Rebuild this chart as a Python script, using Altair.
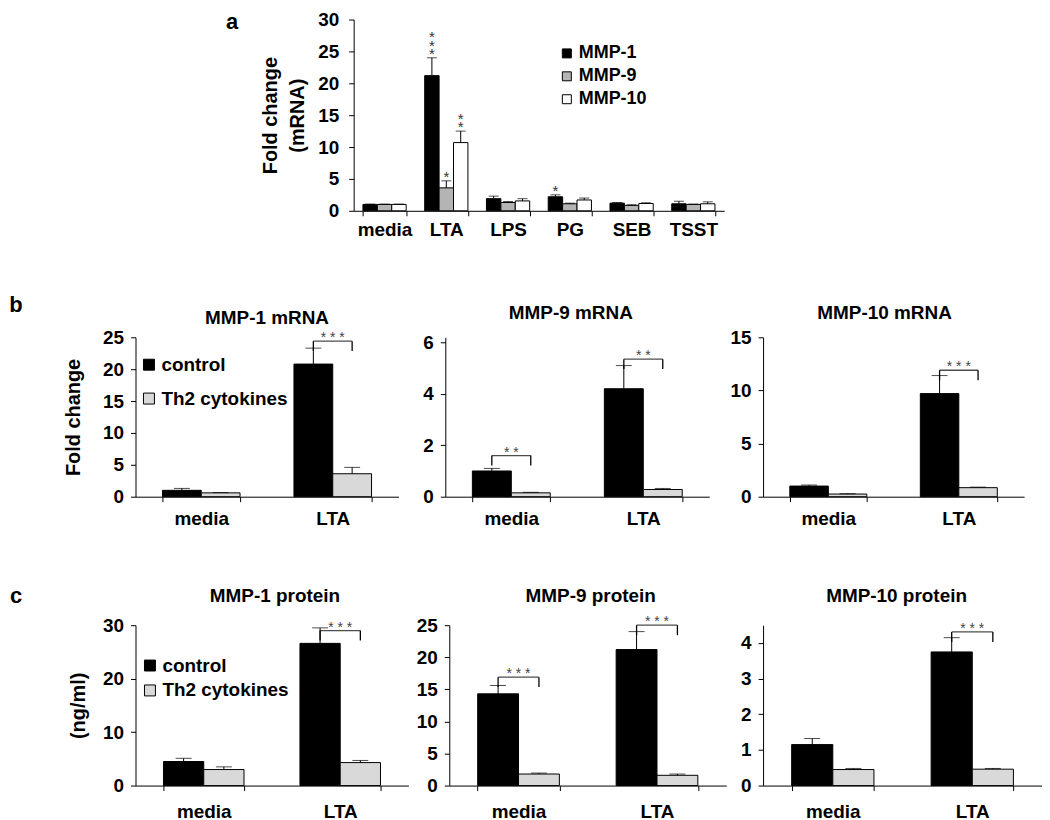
import altair as alt
import pandas as pd

FONT = "Liberation Sans"

# ---------------- Panel a data ----------------
a_categories = ["media", "LTA", "LPS", "PG", "SEB", "TSST"]
a_series = ["MMP-1", "MMP-9", "MMP-10"]
a_colors = ["#000000", "#b4b4b4", "#ffffff"]
a_mmp1 = [1.0, 21.2, 1.9, 2.2, 1.2, 1.1]
a_mmp1_err = [1.05, 24.0, 2.3, 2.5, 1.3, 1.5]
a_mmp9 = [1.0, 3.6, 1.3, 1.1, 0.85, 1.0]
a_mmp9_err = [1.05, 4.7, 1.45, 1.2, 0.95, 1.05]
a_mmp10 = [1.0, 10.7, 1.55, 1.7, 1.15, 1.1]
a_mmp10_err = [1.05, 12.5, 1.9, 2.0, 1.25, 1.4]
a_star_cat = ["LTA", "LTA", "LTA", "PG"]
a_star_series = ["MMP-1", "MMP-9", "MMP-10", "MMP-1"]
a_star_count = [3, 1, 2, 1]

# ---------------- Panels b / c data ----------------
bc_categories = ["media", "LTA"]
bc_groups = ["control", "Th2 cytokines"]
bc_colors = ["#000000", "#d9d9d9"]

b1_ctrl, b1_ctrl_err, b1_th2, b1_th2_err = [1.0, 20.8], [1.3, 23.3], [0.6, 3.6], [0.65, 4.6]
b1_br_cat, b1_br_level, b1_br_text = ["LTA"], [24.4], ["* * *"]

b2_ctrl, b2_ctrl_err, b2_th2, b2_th2_err = [1.0, 4.2], [1.1, 5.1], [0.15, 0.28], [0.17, 0.32]
b2_br_cat, b2_br_level, b2_br_text = ["media", "LTA"], [1.6, 5.35], ["* *", "* *"]

b3_ctrl, b3_ctrl_err, b3_th2, b3_th2_err = [1.0, 9.7], [1.1, 11.4], [0.25, 0.85], [0.28, 0.9]
b3_br_cat, b3_br_level, b3_br_text = ["LTA"], [11.9], ["* * *"]

c1_ctrl, c1_ctrl_err, c1_th2, c1_th2_err = [4.5, 26.6], [5.1, 29.5], [3.0, 4.3], [3.5, 4.7]
c1_br_cat, c1_br_level, c1_br_text = ["LTA"], [29.0], ["* * *"]

c2_ctrl, c2_ctrl_err, c2_th2, c2_th2_err = [14.3, 21.2], [15.6, 24.0], [1.8, 1.6], [1.95, 1.8]
c2_br_cat, c2_br_level, c2_br_text = ["media", "LTA"], [16.9, 25.0], ["* * *", "* * *"]

c3_ctrl, c3_ctrl_err, c3_th2, c3_th2_err = [1.15, 3.75], [1.32, 4.15], [0.45, 0.46], [0.48, 0.48]
c3_br_cat, c3_br_level, c3_br_text = ["LTA"], [4.31], ["* * *"]

AX = dict(domainColor="black", tickColor="black", labelColor="black",
          labelFont=FONT, labelFontWeight="bold", titleFont=FONT,
          titleFontWeight="bold", titleColor="black", grid=False,
          tickSize=5, domainWidth=1, tickWidth=1)

ONE = pd.DataFrame({"t": ["x"]})


def text_at(txt, dx, dy, size, baseline="middle", weight="bold", align="center"):
    return alt.Chart(pd.DataFrame({"t": [txt]})).mark_text(
        font=FONT, fontWeight=weight, fontSize=size, align=align,
        baseline=baseline, color="black"
    ).encode(x=alt.value(dx), y=alt.value(dy), text="t:N")


def frame(L, T, W, H, R, B):
    # invisible layout frame fixing the panel's bounds
    return alt.Chart(ONE).mark_rule(opacity=0, strokeWidth=0.1).encode(
        x=alt.value(-L), x2=alt.value(W + R), y=alt.value(-T), y2=alt.value(H + B))


# ---------------- Panel a ----------------
AW, AH, AMAX = 372, 192, 30
rows = []
for s, vals, errs in zip(a_series, [a_mmp1, a_mmp9, a_mmp10],
                         [a_mmp1_err, a_mmp9_err, a_mmp10_err]):
    for c, v, e in zip(a_categories, vals, errs):
        rows.append(dict(cat=c, series=s, value=v, err=e))
df_a = pd.DataFrame(rows)
star_rows = []
star_gap = 8.3 * AMAX / AH  # vertical spacing of stacked stars in data units
for c, s, n in zip(a_star_cat, a_star_series, a_star_count):
    e = df_a[(df_a.cat == c) & (df_a.series == s)].err.iloc[0]
    for k in range(n):
        star_rows.append(dict(cat=c, series=s, y=e + k * star_gap, txt="*"))
df_a_star = pd.DataFrame(star_rows)

a_pi = 0.3
a_band = AW / len(a_categories) * (1 - a_pi)
a_bw = a_band / len(a_series)
xa = alt.X("cat:N", scale=alt.Scale(type="band", domain=a_categories, paddingInner=a_pi,
                                    paddingOuter=a_pi / 2),
           axis=alt.Axis(title=None, labelAngle=0, tickBand="extent", labelFontSize=19,
                         labelPadding=5, **AX))
ya_axis = alt.Axis(values=[0, 5, 10, 15, 20, 25, 30], title=["Fold change", "(mRNA)"],
                   titleFontSize=20, titleLineHeight=27, labelFontSize=19, titlePadding=10,
                   labelPadding=10, **AX)
ya_scale = alt.Scale(domain=[0, AMAX], nice=False)
a_color = alt.Color("series:N", scale=alt.Scale(domain=a_series, range=a_colors),
                    legend=alt.Legend(orient="none", legendX=205, legendY=25, title=None,
                                      symbolType="square", symbolSize=81,
                                      symbolStrokeColor="black", symbolStrokeWidth=1,
                                      labelFont=FONT, labelFontWeight="bold",
                                      labelFontSize=18, labelColor="black",
                                      rowPadding=5, labelOffset=3))

a_layers = []
for i, s in enumerate(a_series):
    off = (i - (len(a_series) - 1) / 2) * a_bw
    sel = alt.datum.series == s
    a_layers.append(alt.Chart(df_a).transform_filter(sel).mark_bar(
        stroke="black", strokeWidth=1, width=a_bw, xOffset=off).encode(
        x=xa, y=alt.Y("value:Q", scale=ya_scale, axis=ya_axis), color=a_color))
    a_layers.append(alt.Chart(df_a).transform_filter(sel).mark_rule(
        color="black", strokeWidth=1, xOffset=off).encode(
        x=xa, y=alt.Y("value:Q", scale=ya_scale, axis=ya_axis), y2="err:Q"))
    a_layers.append(alt.Chart(df_a).transform_filter(sel).mark_tick(
        color="black", size=10, thickness=1, xOffset=off).encode(
        x=xa, y=alt.Y("err:Q", scale=ya_scale, axis=ya_axis)))
    if (df_a_star.series == s).any():
        a_layers.append(alt.Chart(df_a_star).transform_filter(sel).mark_text(
            font=FONT, fontSize=15, color="#333333", baseline="bottom", dy=4, xOffset=off).encode(
            x=xa, y=alt.Y("y:Q", scale=ya_scale, axis=ya_axis), text="txt:N"))

panel_a = alt.layer(
    *a_layers,
    text_at("a", -122, -7, 22, baseline="top"),
    frame(130, 10, AW, AH, 0, 32),
).properties(width=AW, height=AH)


# ---------------- Panels b / c ----------------
def panel(title, tx, ty, ymax, tick_vals, ctrl, ctrl_err, th2, th2_err, br_cat, br_level,
          br_text, width, height, L, T, B, ytitle=None, legend=None, lab=None, label_pad=9,
          title_pad=9):
    rows = []
    for g, vals, errs in zip(bc_groups, [ctrl, th2], [ctrl_err, th2_err]):
        for c, v, e in zip(bc_categories, vals, errs):
            rows.append(dict(cat=c, group=g, value=v, err=e))
    df = pd.DataFrame(rows)
    drop = ymax * 10.0 / height
    dfb = pd.DataFrame({"cat": br_cat, "y": br_level, "txt": br_text})
    dfb["y0"] = dfb["y"] - drop

    pi = 0.41
    band = width / len(bc_categories) * (1 - pi)
    bw = band / 2
    x = alt.X("cat:N", scale=alt.Scale(type="band", domain=bc_categories,
                                       paddingInner=pi, paddingOuter=pi / 2),
              axis=alt.Axis(title=None, labelAngle=0, tickBand="extent", labelFontSize=19,
                            labelPadding=label_pad, **AX))
    yscale = alt.Scale(domain=[0, ymax], nice=False)
    yaxis = alt.Axis(values=tick_vals, title=ytitle, titleFontSize=20, labelFontSize=19,
                     titlePadding=title_pad, labelPadding=7, **AX)
    if legend:
        lx, ly, rp = legend
        leg = alt.Legend(orient="none", legendX=lx, legendY=ly, title=None,
                         symbolType="square", symbolSize=121,
                         symbolStrokeColor="black", symbolStrokeWidth=1,
                         labelFont=FONT, labelFontWeight="bold", labelFontSize=19,
                         labelColor="black", rowPadding=rp, labelOffset=3)
    else:
        leg = None
    color = alt.Color("group:N", scale=alt.Scale(domain=bc_groups, range=bc_colors), legend=leg)
    layers = []
    for i, g in enumerate(bc_groups):
        off = (i - 0.5) * bw
        sel = alt.datum.group == g
        layers.append(alt.Chart(df).transform_filter(sel).mark_bar(
            stroke="black", strokeWidth=1, width=bw, xOffset=off).encode(
            x=x, y=alt.Y("value:Q", scale=yscale, axis=yaxis), color=color))
        layers.append(alt.Chart(df).transform_filter(sel).mark_rule(
            color="black", strokeWidth=1, xOffset=off).encode(
            x=x, y=alt.Y("value:Q", scale=yscale, axis=yaxis), y2="err:Q"))
        layers.append(alt.Chart(df).transform_filter(sel).mark_tick(
            color="black", size=16, thickness=1, xOffset=off).encode(
            x=x, y=alt.Y("err:Q", scale=yscale, axis=yaxis)))
        # bracket end drops
        layers.append(alt.Chart(dfb).mark_rule(
            color="black", strokeWidth=1.3, xOffset=off).encode(
            x=x, y=alt.Y("y0:Q", scale=yscale, axis=yaxis), y2="y:Q"))
    # bracket horizontal bar
    layers.append(alt.Chart(dfb).mark_tick(color="black", size=bw, thickness=1.3).encode(
        x=x, y=alt.Y("y:Q", scale=yscale, axis=yaxis)))
    layers.append(alt.Chart(dfb).mark_text(font=FONT, fontSize=14, color="#444444",
                                           baseline="bottom", dy=4).encode(
        x=x, y=alt.Y("y:Q", scale=yscale, axis=yaxis), text="txt:N"))
    layers.append(text_at(title, tx, ty, 19))
    if lab:
        layers.append(text_at(lab[0], -120, lab[1], 22))
    layers.append(frame(L, T, width, height, 0, B))
    return alt.layer(*layers).properties(width=width, height=height)


b1 = panel("MMP-1 mRNA", 132, -19, 25, [0, 5, 10, 15, 20, 25], b1_ctrl, b1_ctrl_err, b1_th2,
           b1_th2_err, b1_br_cat, b1_br_level, b1_br_text, 264, 160, 128, 45, 35,
           ytitle="Fold change", legend=(4, 18, 14), lab=("b", -32), label_pad=8, title_pad=19)
b2 = panel("MMP-9 mRNA", 126, -24, 6.2, [0, 2, 4, 6], b2_ctrl, b2_ctrl_err, b2_th2, b2_th2_err,
           b2_br_cat, b2_br_level, b2_br_text, 265, 160, 47, 45, 35, label_pad=8)
b3 = panel("MMP-10 mRNA", 122, -24, 15, [0, 5, 10, 15], b3_ctrl, b3_ctrl_err, b3_th2,
           b3_th2_err, b3_br_cat, b3_br_level, b3_br_text, 262, 160, 54, 45, 35, label_pad=8)
c1 = panel("MMP-1 protein", 140, -29, 30, [0, 10, 20, 30], c1_ctrl, c1_ctrl_err, c1_th2,
           c1_th2_err, c1_br_cat, c1_br_level, c1_br_text, 274, 161, 128, 44, 38,
           ytitle="(ng/ml)", legend=(5, 31, 5), lab=("c", -29), label_pad=12, title_pad=14)
c2 = panel("MMP-9 protein", 142, -29, 25, [0, 5, 10, 15, 20, 25], c2_ctrl, c2_ctrl_err, c2_th2,
           c2_th2_err, c2_br_cat, c2_br_level, c2_br_text, 278, 161, 41, 44, 38, label_pad=12)
c3 = panel("MMP-10 protein", 134, -29, 4.5, [0, 1, 2, 3, 4], c3_ctrl, c3_ctrl_err, c3_th2,
           c3_th2_err, c3_br_cat, c3_br_level, c3_br_text, 280, 161, 37, 44, 38, label_pad=12)

spacer = alt.layer(frame(0, 0, 89, 10, 0, 0)).properties(width=89, height=10)

row_a = alt.hconcat(spacer, panel_a, spacing=0).resolve_scale(color="independent")
row_b = alt.hconcat(b1, b2, b3, spacing=0).resolve_scale(color="independent")
row_c = alt.hconcat(c1, c2, c3, spacing=0).resolve_scale(color="independent")

chart = alt.vconcat(row_a, row_b, row_c, spacing=50).resolve_scale(
    color="independent").properties(
    padding={"left": 0, "top": 0, "right": 0, "bottom": 0}
).configure(font=FONT).configure_view(stroke=None)

chart.save("out.html", embed_options={"renderer": "svg", "actions": False})
